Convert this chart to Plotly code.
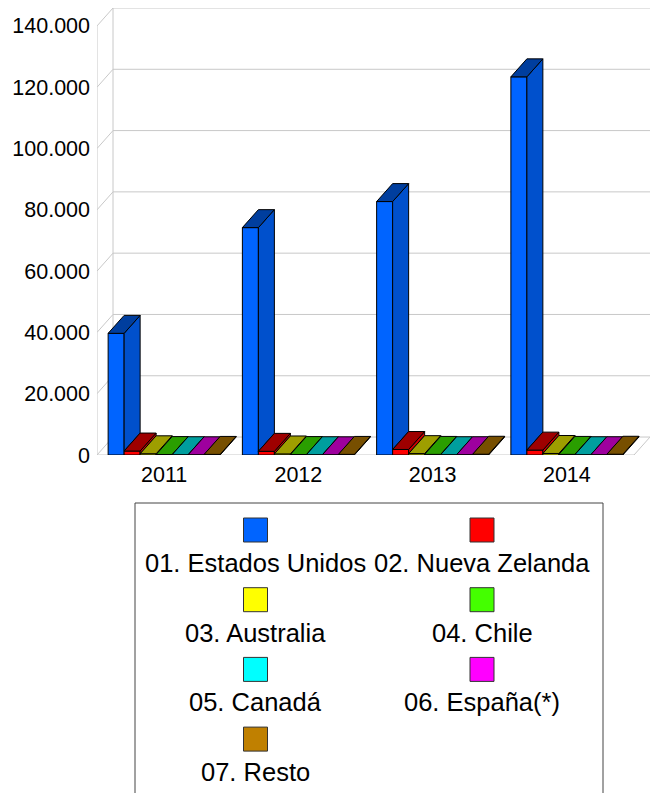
import plotly.graph_objects as go

# ---------------- data ----------------
years = ["2011", "2012", "2013", "2014"]
series_names = ["01. Estados Unidos", "02. Nueva Zelanda", "03. Australia",
                "04. Chile", "05. Canadá", "06. España(*)", "07. Resto"]
estados_unidos = [39700, 74200, 82700, 123400]
nueva_zelanda = [1300, 1200, 1800, 1600]
australia = [400, 350, 450, 500]
chile = [150, 150, 200, 200]
canada = [100, 100, 100, 100]
espana = [80, 80, 100, 100]
resto = [200, 200, 250, 250]
y_ticks = [0, 20000, 40000, 60000, 80000, 100000, 120000, 140000]
y_tick_labels = [f"{v:,}".replace(",", ".") for v in y_ticks]

series_values = [estados_unidos, nueva_zelanda, australia, chile, canada, espana, resto]
colors = ["#0064ff", "#ff0000", "#ffff00", "#44ff00", "#00ffff", "#ff00ff", "#c08000"]

# ---------------- geometry (3D look) ----------------
W_PX, H_PX = 651, 793
ML, MR, MT, MB = 97, 1, 8, 338
plot_w = W_PX - ML - MR
plot_h = H_PX - MT - MB
DX = 16 / 134.25           # depth offset in category units
YTOP = 140000
DY = 18 * YTOP / 430.0      # depth offset in value units
XR = [-0.5, len(years) - 0.5 + DX]
YR = [0, YTOP + DY]
nser = len(series_values)
BW = DX                      # bar width in category units
BG = 1 - nser * BW           # bar gap


def shade(hexc, f):
    h = hexc.lstrip("#")
    r, g, b = int(h[0:2], 16), int(h[2:4], 16), int(h[4:6], 16)
    return "#%02x%02x%02x" % (int(r * f), int(g * f), int(b * f))


GRID = "#c8c8c8"
shapes = []


def line(x0, y0, x1, y1):
    shapes.append(dict(type="line", xref="x", yref="y", x0=x0, y0=y0, x1=x1, y1=y1,
                       line=dict(color=GRID, width=1), layer="below"))


xl, xr = XR[0], len(years) - 0.5
for v in y_ticks:
    line(xl + DX, v + DY, xr + DX, v + DY)      # back wall
    line(xl, v, xl + DX, v + DY)                # side wall diagonal
line(xl, 0, xl, YTOP)
line(xl + DX, DY, xl + DX, YTOP + DY)
line(xl, 0, xr, 0)                               # floor front
line(xr, 0, xr + DX, DY)                         # floor right


def poly(pts, fill):
    p = "M " + " L ".join(f"{x},{y}" for x, y in pts) + " Z"
    shapes.append(dict(type="path", xref="x", yref="y", path=p, fillcolor=fill,
                       line=dict(color="black", width=1), layer="above"))


fig = go.Figure()
for j, (name, vals, col) in enumerate(zip(series_names, series_values, colors)):
    fig.add_trace(go.Bar(x=list(range(len(years))), y=vals, name=name,
                         marker=dict(color=col, line=dict(color="black", width=1)),
                         showlegend=False, hoverinfo="skip"))

for i in range(len(years)):
    for j in range(nser):
        v = series_values[j][i]
        col = colors[j]
        x0 = i - 0.5 + BG / 2 + j * BW
        x1 = x0 + BW
        vn = series_values[j + 1][i] if j + 1 < nser else 0
        if vn < v:
            poly([(x1, v), (x1 + DX, v + DY), (x1 + DX, vn + DY), (x1, vn)], shade(col, 0.8))
        poly([(x0, v), (x1, v), (x1 + DX, v + DY), (x0 + DX, v + DY)], shade(col, 0.62))

# ---------------- custom legend ----------------
def px2paper(px, py):
    return (px - ML) / plot_w, (H_PX - MB - py) / plot_h


annotations = []
bx0, by0 = px2paper(135, 503)
bx1, by1 = px2paper(603, 800)
shapes.append(dict(type="rect", xref="paper", yref="paper", x0=bx0, y0=by0, x1=bx1, y1=by1,
                   line=dict(color="#444444", width=1), fillcolor="rgba(0,0,0,0)"))
col_x = [255.5, 482]
row_sw_top = 518
row_pitch = 69.7
for k, (name, col) in enumerate(zip(series_names, colors)):
    cx = col_x[k % 2]
    r = k // 2
    st = row_sw_top + r * row_pitch
    sx0, sy0 = px2paper(cx - 12, st)
    sx1, sy1 = px2paper(cx + 12, st + 24)
    shapes.append(dict(type="rect", xref="paper", yref="paper", x0=sx0, y0=sy0, x1=sx1, y1=sy1,
                       line=dict(color="#333333", width=1), fillcolor=col))
    tx, ty = px2paper(cx, st + 45)
    annotations.append(dict(x=tx, y=ty, xref="paper", yref="paper", text=name, showarrow=False,
                            xanchor="center", yanchor="middle",
                            font=dict(size=25.5, color="black")))

fig.update_layout(
    width=W_PX, height=H_PX,
    margin=dict(l=ML, r=MR, t=MT, b=MB, pad=0, autoexpand=False),
    paper_bgcolor="white", plot_bgcolor="white",
    barmode="group", bargap=BG, bargroupgap=0,
    font=dict(family="Liberation Sans, Arial, sans-serif", color="black", size=21.5),
    shapes=shapes, annotations=annotations,
    xaxis=dict(range=XR, tickvals=list(range(len(years))), ticktext=years,
               showgrid=False, zeroline=False, showline=False, ticks="",
               ticklabelstandoff=4, fixedrange=True, automargin=False),
    yaxis=dict(range=YR, tickvals=y_ticks, ticktext=y_tick_labels,
               showgrid=False, zeroline=False, showline=False, ticks="",
               ticklabelstandoff=6, fixedrange=True, automargin=False),
)

fig.write_html("out.html", config={"displayModeBar": False},
               post_script="document.body.style.margin='0';document.body.style.overflow='hidden';")
